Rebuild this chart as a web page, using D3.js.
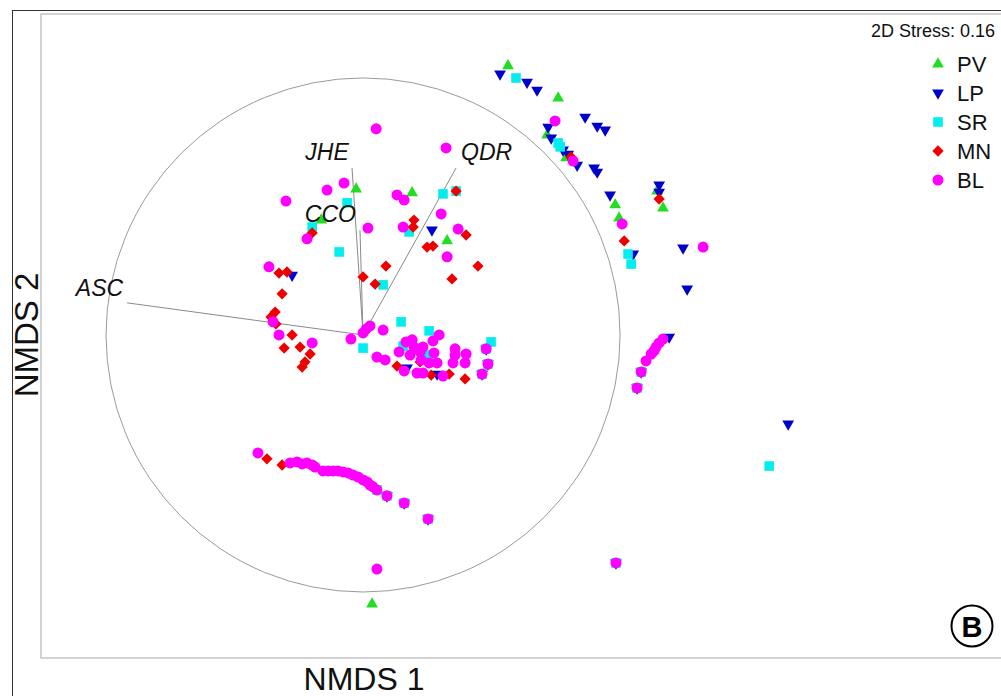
<!DOCTYPE html>
<html>
<head>
<meta charset="utf-8">
<script src="https://cdn.jsdelivr.net/npm/d3@7"></script>
<style>
  body { margin: 0; background: #fff; }
  svg { display: block; font-family: "Liberation Sans", Arial, sans-serif; }
</style>
</head>
<body>
<svg id="chart"></svg>
<script>
// NMDS scores (circle radius = 1)
let categories = ["PV", "LP", "SR", "MN", "BL"];
let stress = 0.16;

let PV = [[0.564,1.047],[0.759,0.922],[0.716,0.778],[0.790,0.689],[0.981,0.506],[1.144,0.560],
  [1.167,0.494],[0.996,0.455],[-0.027,0.568],[0.191,0.553],[0.327,0.366],[-0.163,0.447],[0.035,-1.047]];

let LP = [[0.533,1.016],[0.638,0.984],[0.677,0.953],[0.864,0.848],[0.911,0.813],[0.942,0.798],
  [0.720,0.809],[0.732,0.767],[0.778,0.720],[0.798,0.704],[0.833,0.661],[0.899,0.650],[0.911,0.634],
  [0.961,0.545],[1.152,0.584],[1.152,0.556],[1.051,0.315],[1.245,0.339],[1.261,0.179],[1.191,-0.008],
  [1.654,-0.346],[0.268,0.409],[-0.276,0.233],[0.171,-0.128],[0.288,-0.152],
  [0.984,-0.887],[1.066,-0.206],[1.082,-0.144],[0.253,-0.716],[0.160,-0.654],[0.093,-0.626],
  [0.479,-0.054],[0.463,-0.152],[0.486,-0.113]];

let SR = [[0.595,1.000],[0.759,0.747],[0.767,0.732],[1.031,0.315],[1.043,0.276],[1.580,-0.510],
  [-0.062,0.514],[0.311,0.549],[0.179,0.401],[-0.198,0.420],[-0.093,0.323],[0.078,0.195],
  [0.000,-0.051],[0.148,0.051],[0.257,0.016],[0.498,-0.027],[0.156,-0.043],[0.253,-0.078],
  [0.984,-0.887],[1.066,-0.206],[1.082,-0.144],[0.253,-0.716],[0.160,-0.654],[0.093,-0.626],
  [0.479,-0.054],[0.463,-0.152],[0.486,-0.113],[0.054,-0.603],[0.362,0.560]];

let MN = [[0.809,0.693],[1.152,0.529],[1.016,0.366],[0.362,0.560],[0.198,0.447],[0.195,0.420],
  [0.401,0.389],[0.249,0.342],[0.272,0.346],[0.447,0.268],[0.346,0.218],[0.089,0.268],[0.000,0.226],
  [0.047,0.198],[-0.198,0.397],[-0.327,0.241],[-0.296,0.245],[-0.315,0.160],[-0.342,0.089],
  [-0.358,0.070],[-0.339,0.043],[-0.276,0.000],[-0.307,-0.051],[-0.245,-0.047],[-0.206,-0.074],
  [-0.226,-0.105],[-0.237,-0.125],[0.132,-0.121],[0.265,-0.156],[0.335,-0.152],[0.397,-0.171],
  [0.222,-0.105],[-0.374,-0.482],[-0.315,-0.506]];

let BL = [[0.747,0.833],[0.817,0.677],[1.008,0.432],[1.323,0.342],[1.167,-0.016],[1.152,-0.031],
  [1.140,-0.047],[1.132,-0.062],[1.121,-0.074],[1.101,-0.101],[1.082,-0.144],[1.066,-0.206],
  [0.984,-0.887],[0.051,0.802],[0.323,0.728],[-0.074,0.591],[-0.140,0.564],[-0.300,0.521],
  [0.132,0.545],[0.160,0.525],[0.304,0.471],[0.156,0.420],[0.370,0.412],[0.327,0.304],[0.019,0.416],
  [-0.218,0.374],[-0.366,0.265],[-0.350,0.051],[-0.327,0.000],[-0.198,-0.031],[-0.047,-0.016],
  [0.000,0.008],[0.027,0.035],[0.012,0.023],[0.078,0.019],[0.054,-0.086],[0.086,-0.097],
  [0.296,0.000],[0.167,-0.027],[0.191,-0.019],[0.198,-0.047],[0.233,-0.047],[0.272,-0.023],
  [0.140,-0.066],[0.183,-0.078],[0.222,-0.066],[0.276,-0.070],[0.358,-0.054],[0.358,-0.078],
  [0.401,-0.074],[0.479,-0.054],[0.226,-0.097],[0.257,-0.109],[0.288,-0.109],[0.350,-0.109],
  [0.397,-0.109],[0.486,-0.113],[0.160,-0.140],[0.210,-0.148],[0.233,-0.148],[0.311,-0.160],
  [0.463,-0.152],
  [-0.409,-0.459],[-0.284,-0.498],[-0.257,-0.494],[-0.237,-0.502],[-0.218,-0.498],[-0.198,-0.506],
  [-0.187,-0.514],[-0.156,-0.529],[-0.136,-0.529],[-0.117,-0.529],[-0.097,-0.529],[-0.078,-0.533],
  [-0.058,-0.537],[-0.039,-0.545],[-0.019,-0.553],[0.000,-0.564],[0.016,-0.572],[0.027,-0.584],
  [0.039,-0.591],[0.054,-0.603],[0.093,-0.626],[0.160,-0.654],[0.253,-0.716],[0.054,-0.911]];

// environmental vectors
let vectorNames = ["ASC", "JHE", "CCO", "QDR"];
let vectorX = [-0.918, -0.043, -0.012, 0.362];
let vectorY = [0.125, 0.650, 0.409, 0.650];

let groups = [PV, LP, SR, MN, BL];

let w = 1001;
let h = 696;
let svg = d3.select('#chart').attr('width', w).attr('height', h);

let x = d3.scaleLinear().domain([-1.253, 2.482]).range([41, 1001]);
let y = d3.scaleLinear().domain([1.249, -1.257]).range([14, 658]);

let color = d3.scaleOrdinal().domain(categories)
  .range(["#22dd22", "#0000cc", "#00eeee", "#ee0000", "#ff00ff"]);

let shape = {
  PV: { type: d3.symbolTriangle, size: 60, rot: 0 },
  LP: { type: d3.symbolTriangle, size: 60, rot: 180 },
  SR: { type: d3.symbolSquare, size: 92, rot: 0 },
  MN: { type: d3.symbolSquare, size: 64, rot: 45 },
  BL: { type: d3.symbolCircle, size: 95, rot: 0 }
};

// outer frame and plot box
svg.append('rect')
  .attr('x', 12.5).attr('y', 10.5).attr('width', 1100).attr('height', 800)
  .attr('fill', 'none').attr('stroke', '#333').attr('stroke-width', 1);

svg.append('rect')
  .attr('x', x(-1.253)).attr('y', y(1.249))
  .attr('width', 1100).attr('height', y(-1.257) - y(1.249))
  .attr('fill', 'none').attr('stroke', '#c4c4c4').attr('stroke-width', 1.5);

// correlation circle
svg.append('circle')
  .attr('cx', x(0)).attr('cy', y(0)).attr('r', x(1) - x(0))
  .attr('fill', 'none').attr('stroke', '#9a9a9a').attr('stroke-width', 1);

// vectors
let labelOffset = {
  ASC: [-4, -7, 'end'],
  JHE: [-25, -8, 'middle'],
  CCO: [-4, -8, 'end'],
  QDR: [5, -8, 'start']
};

vectorNames.forEach((name, i) => {
  svg.append('line')
    .attr('x1', x(0)).attr('y1', y(0))
    .attr('x2', x(vectorX[i])).attr('y2', y(vectorY[i]))
    .attr('stroke', '#8a8a8a').attr('stroke-width', 1);
});

// points
groups.forEach((pts, gi) => {
  let cat = categories[gi];
  let s = shape[cat];
  svg.append('g').selectAll('path')
    .data(pts)
    .enter()
    .append('path')
    .attr('d', d3.symbol().type(s.type).size(s.size))
    .attr('transform', d => 'translate(' + x(d[0]) + ',' + y(d[1]) + ') rotate(' + s.rot + ')')
    .attr('fill', color(cat));
});

// vector labels (on top)
vectorNames.forEach((name, i) => {
  let o = labelOffset[name];
  svg.append('text')
    .attr('x', x(vectorX[i]) + o[0]).attr('y', y(vectorY[i]) + o[1])
    .attr('text-anchor', o[2])
    .attr('font-size', 23).attr('font-style', 'italic')
    .attr('fill', '#111')
    .text(name);
});

// axis titles
svg.append('text')
  .attr('x', 364).attr('y', 690)
  .attr('text-anchor', 'middle').attr('font-size', 32).attr('fill', '#111')
  .text('NMDS 1');

svg.append('text')
  .attr('transform', 'translate(38,335) rotate(-90)')
  .attr('text-anchor', 'middle').attr('font-size', 33).attr('fill', '#111')
  .text('NMDS 2');

// stress
svg.append('text')
  .attr('x', 995).attr('y', 37)
  .attr('text-anchor', 'end').attr('font-size', 18).attr('fill', '#111')
  .text('2D Stress: ' + stress.toFixed(2));

// legend
let legend = svg.append('g').selectAll('g')
  .data(categories)
  .enter()
  .append('g')
  .attr('transform', (d, i) => 'translate(938,' + (64 + i * 29) + ')');

legend.append('path')
  .attr('d', d => d3.symbol().type(shape[d].type).size(shape[d].size)())
  .attr('transform', d => 'rotate(' + shape[d].rot + ')')
  .attr('fill', d => color(d));

legend.append('text')
  .attr('x', 19).attr('y', 8)
  .attr('font-size', 22).attr('fill', '#111')
  .text(d => d);

// panel letter
svg.append('circle')
  .attr('cx', 972).attr('cy', 626).attr('r', 20.5)
  .attr('fill', 'none').attr('stroke', '#000').attr('stroke-width', 2);

svg.append('text')
  .attr('x', 972).attr('y', 636.5)
  .attr('text-anchor', 'middle').attr('font-size', 29).attr('font-weight', 'bold')
  .text('B');
</script>
</body>
</html>
